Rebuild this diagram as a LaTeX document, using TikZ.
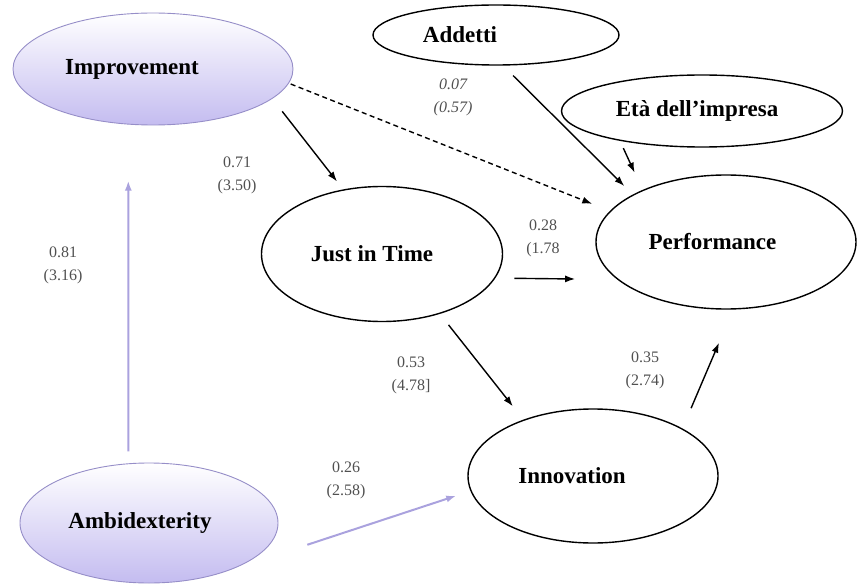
\documentclass[tikz,border=0pt]{standalone}
\usepackage{fontspec}
\setmainfont{Liberation Serif}
\usetikzlibrary{arrows.meta,shapes.geometric}

\definecolor{lavender}{RGB}{196,188,240}
\definecolor{lavline}{RGB}{150,142,200}
\definecolor{lavarrow}{RGB}{170,162,222}
\definecolor{coefgray}{RGB}{80,80,80}

\begin{document}
\begin{tikzpicture}[
  x=1pt, y=-1pt,
  >=Latex,
  construct/.style={
    draw,
    ellipse,
    line width=1.4pt,
    inner sep=0pt,
    font=\fontsize{23}{26}\selectfont\bfseries
  },
  driver/.style={
    construct,
    draw=lavline,
    line width=0.9pt,
    top color=white,
    bottom color=lavender
  },
  arrow/.style={-{Latex[length=10pt,width=7pt]}, line width=1.4pt},
  softarrow/.style={arrow, draw=lavarrow, line width=2pt},
  coef/.style={align=center, text=coefgray, font=\fontsize{16}{23}\selectfont}
]

\useasboundingbox (0,0) rectangle (859,585);

% constructs
\node[driver, minimum width=280, minimum height=112] (impr) at (153,69) {Improvement\hspace*{42pt}};
\node[driver, minimum width=258, minimum height=120] (ambi) at (149,523) {Ambidexterity\hspace*{18pt}};
\node[construct, minimum width=246, minimum height=60] (addetti) at (496,35) {Addetti\hspace*{72pt}};
\node[construct, minimum width=281, minimum height=72] (eta) at (702,111) {Età dell’impresa\hspace*{10pt}};
\node[construct, minimum width=260, minimum height=134] (perf) at (726,242) {Performance\hspace*{27pt}};
\node[construct, minimum width=241, minimum height=135] (jit) at (382,254) {Just in Time\hspace*{20pt}};
\node[construct, minimum width=250, minimum height=134] (innov) at (593,476) {Innovation\hspace*{42pt}};

% paths
\draw[arrow, shorten <=16pt, shorten >=10pt] (impr.-14.7) -- (jit.121.6);
\draw[arrow, dash pattern=on 5pt off 3.5pt, shorten <=2pt, shorten >=19pt] (impr.-6.4) -- (perf.165);
\draw[arrow, shorten <=14pt, shorten >=12pt] (addetti.-77) -- (perf.153.9);
\draw[arrow, shorten <=8pt, shorten >=19pt] (eta.200) -- (perf.148.7);
\draw[arrow, shorten <=19pt, shorten >=42pt] (jit.-12.9) -- (perf.199.6);
\draw[arrow, shorten <=14pt, shorten >=17pt] (jit.-46.3) -- (innov.141.8);
\draw[arrow, shorten <=22pt, shorten >=36pt] (innov.28.3) -- (perf.-84.9);
\draw[softarrow, shorten <=12pt, shorten >=56pt] (ambi.109.5) -- (impr.-114.4);
\draw[softarrow, shorten <=83pt, shorten >=15pt] (ambi.-31.8) -- (innov.187.5);

% coefficients
\node[coef] (c71) at (237,175) {0.71\\(3.50)};
\node[coef, font=\fontsize{16}{23}\selectfont\itshape] (c07) at (453,97) {0.07\\(0.57)};
\node[coef] (c81) at (63,265) {0.81\\(3.16)};
\node[coef] (c28) at (543,238) {0.28\\(1.78};
\node[coef] (c53) at (411,375) {0.53\\(4.78]};
\node[coef] (c35) at (645,370) {0.35\\(2.74)};
\node[coef] (c26) at (346,480) {0.26\\(2.58)};

\end{tikzpicture}
\end{document}
